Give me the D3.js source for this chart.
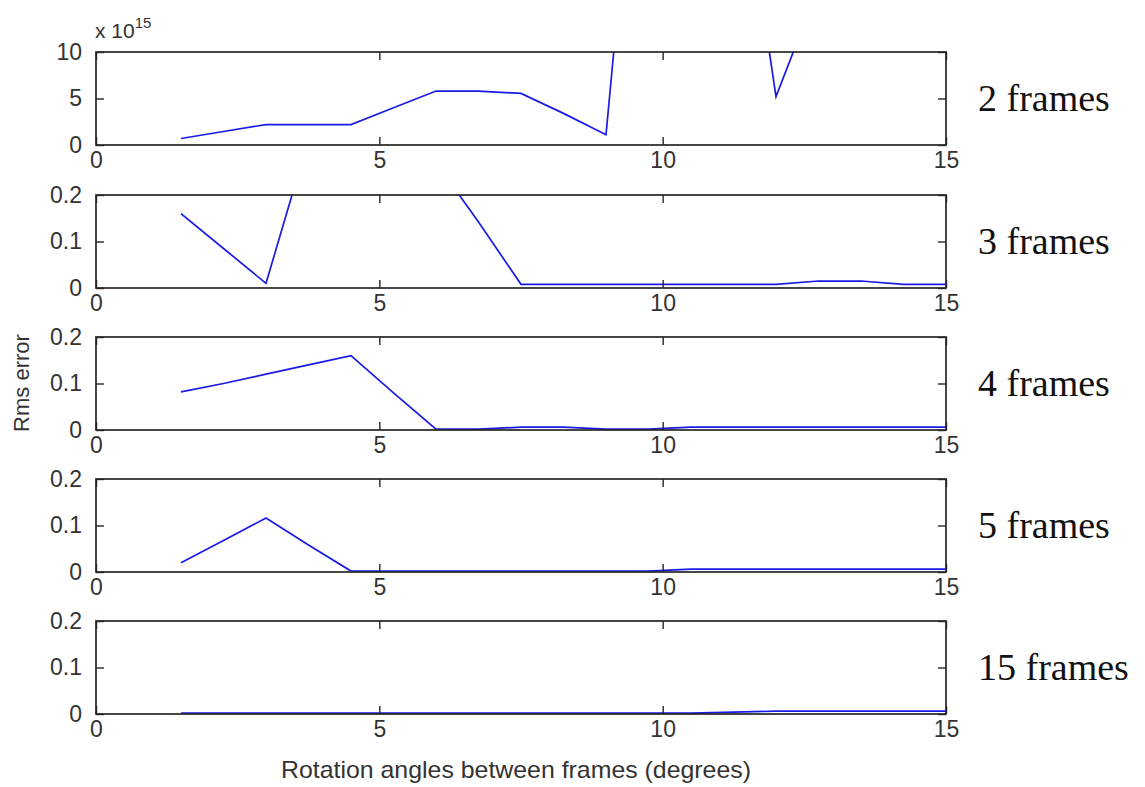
<!DOCTYPE html>
<html>
<head>
<meta charset="utf-8">
<script src="https://cdn.jsdelivr.net/npm/d3@7"></script>
<style>
  body { margin: 0; background: #fff; }
  svg { display: block; }
</style>
</head>
<body>
<div class="chart"></div>
<script>
// rotation angles (degrees) shared by every panel
const angles = [1.5, 2.25, 3, 3.75, 4.5, 5.25, 6, 6.75, 7.5, 8.25, 9, 9.75, 10.5, 11.25, 12, 12.75, 13.5, 14.25, 15];

// rms error per panel (2 frames is in units of 1e15)
const frames2 = [0.7, 1.45, 2.2, 2.2, 2.2, 4.0, 5.8, 5.8, 5.55, 3.4, 1.1, 50, 62, 36, 5.2, 17, 40, 30, 45];
const frames3 = [0.16, 0.085, 0.01, 0.32, 0.5, 0.45, 0.27, 0.142, 0.008, 0.008, 0.008, 0.008, 0.008, 0.008, 0.008, 0.015, 0.015, 0.008, 0.008];
const frames4 = [0.082, 0.1, 0.12, 0.14, 0.16, 0.08, 0.002, 0.002, 0.006, 0.006, 0.002, 0.002, 0.006, 0.006, 0.006, 0.006, 0.006, 0.006, 0.006];
const frames5 = [0.02, 0.068, 0.116, 0.058, 0.002, 0.002, 0.002, 0.002, 0.002, 0.002, 0.002, 0.002, 0.006, 0.006, 0.006, 0.006, 0.006, 0.006, 0.006];
const frames15 = [0.002, 0.002, 0.002, 0.002, 0.002, 0.002, 0.002, 0.002, 0.002, 0.002, 0.002, 0.002, 0.002, 0.004, 0.006, 0.006, 0.006, 0.006, 0.006];

const panelLabels = ["2 frames", "3 frames", "4 frames", "5 frames", "15 frames"];
const panelSeries = [frames2, frames3, frames4, frames5, frames15];
const yDomains = [[0, 10], [0, 0.2], [0, 0.2], [0, 0.2], [0, 0.2]];
const yTicks = [[0, 5, 10], [0, 0.1, 0.2], [0, 0.1, 0.2], [0, 0.1, 0.2], [0, 0.1, 0.2]];
const xTicks = [0, 5, 10, 15];

const width = 1145, height = 787;
const left = 96, right = 946;
const tops = [52, 195, 337, 479, 621];
const panelH = 93;
const axisFont = "'Liberation Sans', Arial, sans-serif";
const axisColor = "#262626";

const svg = d3.select(".chart").append("svg")
  .attr("width", width)
  .attr("height", height);

const x = d3.scaleLinear().domain([0, 15]).range([left, right]);

panelSeries.forEach((series, i) => {
  const top = tops[i], bottom = top + panelH;
  const y = d3.scaleLinear().domain(yDomains[i]).range([bottom, top]);
  const g = svg.append("g");

  g.append("clipPath").attr("id", `clip${i}`)
    .append("rect")
      .attr("x", left).attr("y", top)
      .attr("width", right - left).attr("height", panelH);

  const line = d3.line()
    .x((d, j) => x(angles[j]))
    .y(d => y(d));

  g.append("path")
    .datum(series)
    .attr("clip-path", `url(#clip${i})`)
    .attr("fill", "none")
    .attr("stroke", "#1a1ae6")
    .attr("stroke-width", 1.7)
    .attr("d", line);

  const styleAxis = a => a
    .call(a => a.select(".domain").remove())
    .call(a => a.selectAll("line").attr("stroke", axisColor).attr("stroke-width", 1.4))
    .call(a => a.selectAll("text")
      .attr("fill", "#333")
      .style("font-family", axisFont)
      .style("font-size", "23px"));

  g.append("g")
    .attr("transform", `translate(0,${bottom})`)
    .call(d3.axisBottom(x).tickValues(xTicks).tickSizeInner(-8).tickSizeOuter(0).tickPadding(7))
    .call(styleAxis);

  g.append("g")
    .attr("transform", `translate(0,${top})`)
    .call(d3.axisTop(x).tickValues(xTicks).tickSizeInner(-8).tickSizeOuter(0).tickFormat(""))
    .call(styleAxis);

  g.append("g")
    .attr("transform", `translate(${left},0)`)
    .call(d3.axisLeft(y).tickValues(yTicks[i]).tickSizeInner(-8).tickSizeOuter(0).tickPadding(14)
      .tickFormat(d => String(d)))
    .call(styleAxis);

  g.append("g")
    .attr("transform", `translate(${right},0)`)
    .call(d3.axisRight(y).tickValues(yTicks[i]).tickSizeInner(-8).tickSizeOuter(0).tickFormat(""))
    .call(styleAxis);

  g.append("rect")
    .attr("x", left).attr("y", top)
    .attr("width", right - left).attr("height", panelH)
    .attr("fill", "none")
    .attr("stroke", axisColor)
    .attr("stroke-width", 1.7);

  g.append("text")
    .attr("x", 978)
    .attr("y", top + panelH / 2 + 12)
    .style("font-family", "'Liberation Serif', 'Times New Roman', serif")
    .style("font-size", "38px")
    .attr("fill", "#111")
    .text(panelLabels[i]);
});

// exponent label of the first panel
const expo = svg.append("text")
  .attr("x", 95).attr("y", 38)
  .attr("fill", "#333")
  .style("font-family", axisFont)
  .style("font-size", "21px");
expo.append("tspan").text("x 10");
expo.append("tspan").attr("dy", -10).style("font-size", "15px").text("15");

svg.append("text")
  .attr("transform", `translate(29,${(tops[0] + tops[4] + panelH) / 2}) rotate(-90)`)
  .attr("text-anchor", "middle")
  .attr("fill", "#333")
  .style("font-family", axisFont)
  .style("font-size", "22px")
  .text("Rms error");

svg.append("text")
  .attr("x", 516)
  .attr("y", 778)
  .attr("text-anchor", "middle")
  .attr("fill", "#333")
  .style("font-family", axisFont)
  .style("font-size", "24px")
  .attr("textLength", 470)
  .attr("lengthAdjust", "spacingAndGlyphs")
  .text("Rotation angles between frames (degrees)");
</script>
</body>
</html>
